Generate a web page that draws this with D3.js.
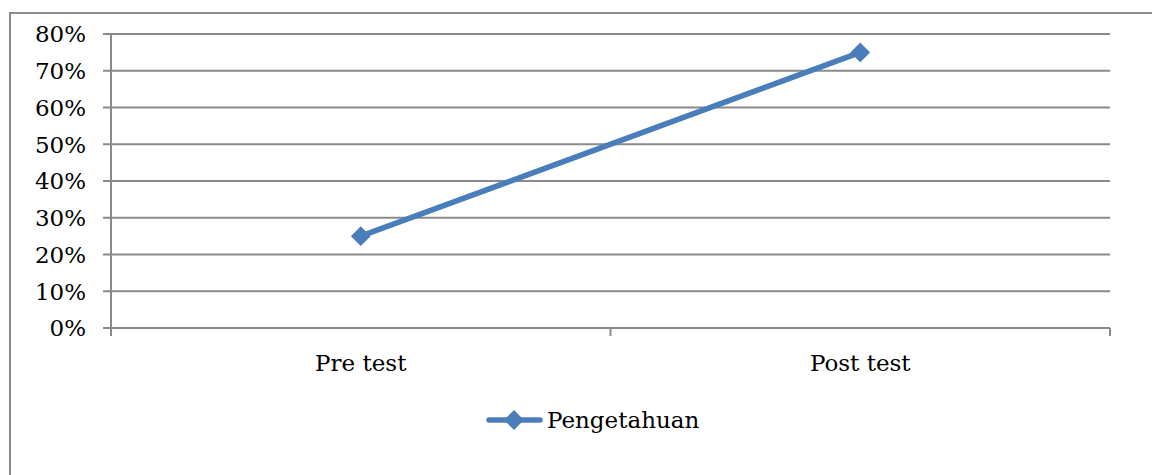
<!DOCTYPE html>
<html><head><meta charset="utf-8">
<script src="https://cdn.jsdelivr.net/npm/d3@7"></script>
<style>html,body{margin:0;padding:0;background:#fff;overflow:hidden}</style>
</head><body>
<svg id="c" width="1152" height="475"></svg>
<script>
const categories = ["Pre test", "Post test"];
const seriesName = "Pengetahuan";
const values = [0.25, 0.75];
const yTicks = [0, 0.1, 0.2, 0.3, 0.4, 0.5, 0.6, 0.7, 0.8];

const svg = d3.select("#c");
const font = "'DejaVu Serif', serif";
const blue = "#4A7EBB", grid = "#8a8a8a";

svg.append("rect").attr("x", 10).attr("y", 13).attr("width", 1160).attr("height", 480)
  .attr("fill", "none").attr("stroke", "#8c8c8c").attr("stroke-width", 2);

const L = 111, R = 1110, T = 34, B = 328;
const x = d3.scaleBand().domain(categories).range([L, R]);
const y = d3.scaleLinear().domain([0, 0.8]).range([B, T]);

svg.append("g").selectAll("line").data(yTicks).join("line")
  .attr("x1", L - 8).attr("x2", R).attr("y1", d => y(d)).attr("y2", d => y(d))
  .attr("stroke", grid).attr("stroke-width", 2);
svg.append("g").selectAll("text").data(yTicks).join("text")
  .attr("x", 86).attr("y", d => y(d)).attr("dy", "0.36em").attr("text-anchor", "end")
  .attr("font-family", font).attr("font-size", 23).attr("fill", "#000")
  .text(d => d3.format(".0%")(d));

svg.append("line").attr("x1", L).attr("x2", L).attr("y1", T).attr("y2", B + 8)
  .attr("stroke", grid).attr("stroke-width", 2);
const bounds = categories.map(c => x(c)).concat([x(categories[categories.length - 1]) + x.bandwidth()]);
svg.append("g").selectAll("line").data(bounds).join("line")
  .attr("x1", d => d).attr("x2", d => d).attr("y1", B).attr("y2", B + 8)
  .attr("stroke", grid).attr("stroke-width", 2);

svg.append("g").selectAll("text").data(categories).join("text")
  .attr("x", d => x(d) + x.bandwidth() / 2).attr("y", 371).attr("text-anchor", "middle")
  .attr("font-family", font).attr("font-size", 23).attr("fill", "#000").text(d => d);

const pts = categories.map((c, i) => [x(c) + x.bandwidth() / 2, y(values[i])]);
svg.append("path").attr("d", d3.line()(pts)).attr("fill", "none")
  .attr("stroke", blue).attr("stroke-width", 5.5).attr("stroke-linecap", "round");
const diamond = d3.symbol().type(d3.symbolDiamond2).size(250);
svg.append("g").selectAll("path").data(pts).join("path")
  .attr("transform", d => `translate(${d[0]},${d[1]})`).attr("d", diamond).attr("fill", blue);

svg.append("line").attr("x1", 489).attr("x2", 540).attr("y1", 420).attr("y2", 420)
  .attr("stroke", blue).attr("stroke-width", 5.5).attr("stroke-linecap", "round");
svg.append("path").attr("transform", "translate(514,420)").attr("d", diamond).attr("fill", blue);
svg.append("text").attr("x", 547).attr("y", 428).attr("font-family", font).attr("font-size", 23)
  .attr("fill", "#000").text(seriesName);
</script>
</body></html>
